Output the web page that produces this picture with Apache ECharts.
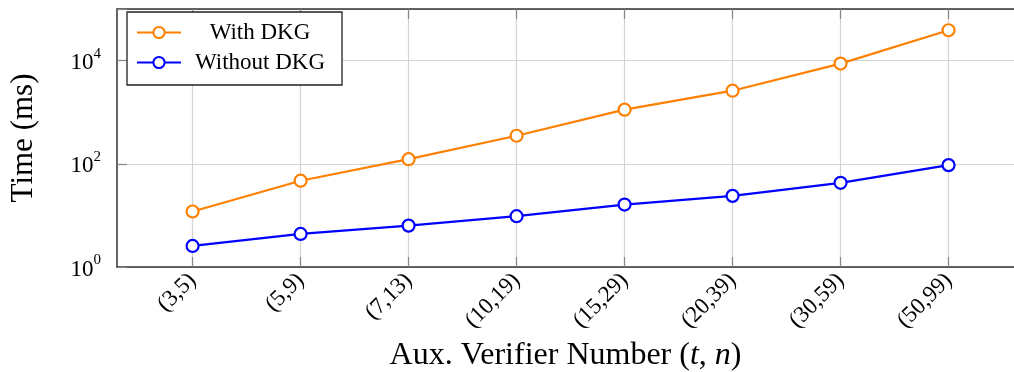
<!DOCTYPE html>
<html><head><meta charset="utf-8">
<script src="https://cdn.jsdelivr.net/npm/echarts@6/dist/echarts.min.js"></script>
<style>html,body{margin:0;padding:0;background:#fff}#c{width:1014px;height:372px}</style>
</head><body><div id="c"></div>
<script>
const categories = ['(3,5)','(5,9)','(7,13)','(10,19)','(15,29)','(20,39)','(30,59)','(50,99)'];
const withDKG = [11.9, 47, 123, 350, 1120, 2610, 8750, 38700];
const withoutDKG = [2.56, 4.37, 6.34, 9.65, 16.2, 23.9, 42.8, 94.3];
const seriesNames = ['With DKG', 'Without DKG'];

const FONT = '"Liberation Serif", "DejaVu Serif", serif';
const ORANGE = '#ff8000';
const BLUE = '#0000ff';
const idx = categories.map((c, i) => i);

const chart = echarts.init(document.getElementById('c'), null, {renderer: 'canvas'});

function mkSeries(name, values, color) {
  return {
    name: name, type: 'line', color: color,
    data: values.map((v, i) => [i, v]),
    symbol: 'circle', symbolSize: 12, showAllSymbol: true,
    lineStyle: {color: color, width: 2.2},
    itemStyle: {color: '#fff', borderColor: color, borderWidth: 2.2},
    emphasis: {disabled: true},
    z: 3
  };
}

chart.setOption({
  animation: false,
  backgroundColor: '#fff',
  grid: {left: 117, right: 0, top: 9, bottom: 105, show: false, containLabel: false, outerBoundsMode: 'none'},
  legend: {
    left: 127, top: 12, orient: 'vertical',
    data: seriesNames,
    backgroundColor: '#fff', borderColor: '#222', borderWidth: 1.3,
    padding: [9, 17, 11, 9], itemGap: 7, itemWidth: 44, itemHeight: 14,
    formatter: n => '{c|' + n + '}',
    textStyle: {
      fontFamily: FONT, fontSize: 23, color: '#000',
      rich: {c: {width: 148, align: 'center', fontFamily: FONT, fontSize: 23, color: '#000'}}
    }
  },
  xAxis: [{
    type: 'value', min: -0.7, max: 7.606, position: 'bottom',
    axisLine: {show: true, onZero: false, lineStyle: {color: '#333', width: 1.5}},
    axisTick: {show: true, inside: true, length: 10, customValues: idx, lineStyle: {color: '#888', width: 1.2}},
    axisLabel: {
      customValues: idx, rotate: 45, margin: 10,
      formatter: v => categories[Math.round(v)] || '',
      fontFamily: FONT, fontSize: 23, color: '#000'
    },
    splitLine: {show: true, lineStyle: {color: '#d3d3d3', width: 1.2}},
    name: 'Aux. Verifier Number ({i|t}, {i|n})',
    nameLocation: 'middle', nameGap: 65,
    nameTextStyle: {
      fontFamily: FONT, fontSize: 32, color: '#000',
      rich: {i: {fontFamily: FONT, fontSize: 32, fontStyle: 'italic', color: '#000'}}
    }
  }, {
    type: 'value', min: -0.7, max: 7.606, position: 'top',
    axisLine: {show: true, onZero: false, lineStyle: {color: '#333', width: 1.5}},
    axisTick: {show: true, inside: true, length: 10, customValues: idx, lineStyle: {color: '#888', width: 1.2}},
    axisLabel: {show: false},
    splitLine: {show: false}
  }],
  yAxis: {
    type: 'log', logBase: 10, min: 1, max: 100000, interval: 2,
    axisLine: {show: true, onZero: false, lineStyle: {color: '#333', width: 1.5}},
    axisTick: {show: true, inside: true, length: 10, lineStyle: {color: '#888', width: 1.2}},
    minorTick: {show: false},
    splitLine: {show: true, lineStyle: {color: '#d3d3d3', width: 1.2}},
    axisLabel: {
      margin: 16,
      formatter: v => {
        const e = Math.round(Math.log10(v));
        if (e % 2 !== 0) return '';
        return '{b|10}{s|' + e + '}';
      },
      rich: {
        b: {fontFamily: FONT, fontSize: 23, color: '#000', lineHeight: 28, verticalAlign: 'bottom'},
        s: {fontFamily: FONT, fontSize: 15, color: '#000', verticalAlign: 'top'}
      }
    },
    name: 'Time (ms)', nameLocation: 'middle', nameRotate: 90, nameGap: 78,
    nameTextStyle: {fontFamily: FONT, fontSize: 31, color: '#000'}
  },
  series: [
    mkSeries(seriesNames[0], withDKG, ORANGE),
    mkSeries(seriesNames[1], withoutDKG, BLUE)
  ]
});
</script>
</body></html>
